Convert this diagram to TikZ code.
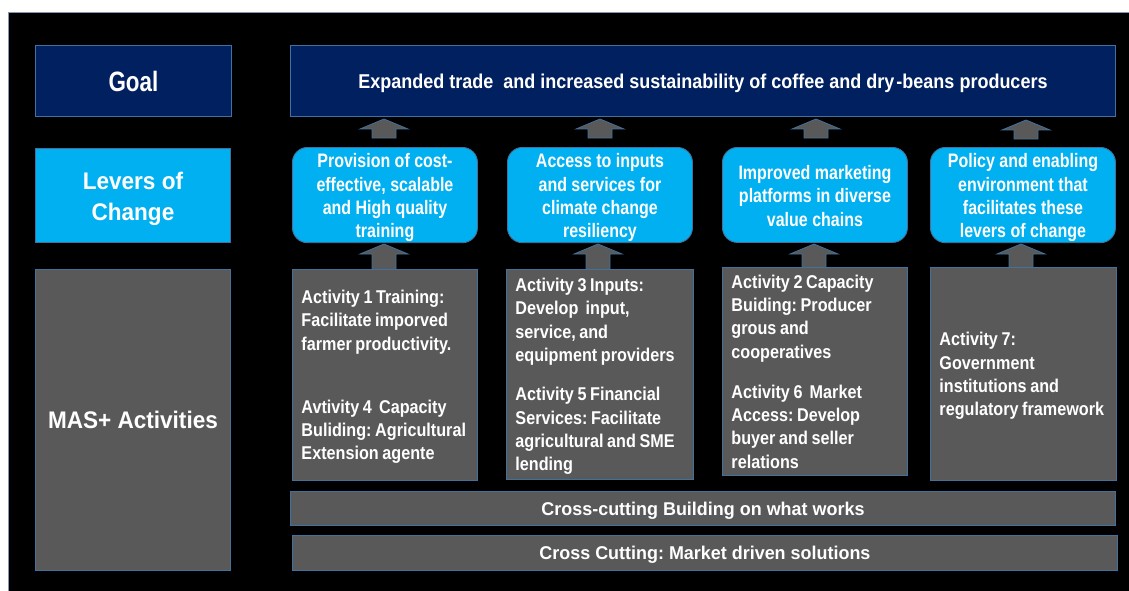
\documentclass[tikz,border=0pt]{standalone}
\usepackage{fontspec}
\setmainfont{Liberation Sans}
\newfontfamily\fgoal{Liberation Sans}[FakeStretch=0.80]
\newfontfamily\fgoaltext{Liberation Sans}[FakeStretch=0.90]
\newfontfamily\flev{Liberation Sans}[FakeStretch=0.82]
\newfontfamily\fact{Liberation Sans}[FakeStretch=0.875]
\newfontfamily\fside{Liberation Sans}[FakeStretch=0.94]
\newfontfamily\fcross{Liberation Sans}[FakeStretch=0.97]
\hyphenpenalty=10000
\exhyphenpenalty=10000
\frenchspacing
\newcommand\tightspaces{\spaceskip=3.6pt plus 1pt minus 0.5pt\relax}

\definecolor{navy}{HTML}{002060}
\definecolor{sky}{HTML}{00B0F0}
\definecolor{slate}{HTML}{595959}
\definecolor{edge}{HTML}{41719C}
\definecolor{frameline}{HTML}{8497B0}

% up-pointing block arrow: x centre, tip y, bottom y
\newcommand\blockup[3]{%
  \filldraw[fill=slate, draw=edge, line width=0.8pt]
    (#1-12,#3) -- (#1-12,#2+10) -- (#1-24,#2+10) -- (#1,#2)
    -- (#1+24,#2+10) -- (#1+12,#2+10) -- (#1+12,#3) -- cycle;}

\begin{document}
\begin{tikzpicture}[x=1pt, y=-1pt,
  box/.style={draw=edge, line width=0.9pt, inner sep=0pt, text=white,
    anchor=north west, align=center,
    % even line boxes top and bottom so text centres like a slide text frame
    execute at begin node={\rule{0pt}{0.98em}},
    execute at end node={\rule[-0.25em]{0pt}{0pt}}},
  lowertext/.style={execute at begin node={\rule{0pt}{1.05em}}},
  goalbox/.style={box, fill=navy},
  leverbox/.style={box, fill=sky, rounded corners=15pt, lowertext,
    text width=185pt, align=flush center,
    font=\flev\bfseries\fontsize{19.5}{23.3}\selectfont},
  sidelabel/.style={font=\fside\bfseries\fontsize{24}{32}\selectfont},
  actbox/.style={box, fill=slate, align=flush left, inner xsep=9pt,
    font=\fact\bfseries\fontsize{18.5}{23.3}\selectfont\tightspaces},
  crossbox/.style={box, fill=slate,
    font=\fcross\bfseries\fontsize{18.5}{22}\selectfont}]

\useasboundingbox (0,0) rectangle (1129,591);
\fill[white] (0,0) rectangle (1129,591);
\filldraw[fill=black, draw=frameline, line width=0.8pt] (8,12) rectangle (1140,600);

% arrows between the rows (drawn first so the boxes sit over their tails)
\blockup{384}{119}{138}
\blockup{600}{119}{138}
\blockup{816}{119}{138}
\blockup{1026}{120}{139}
\blockup{384}{244}{275}
\blockup{598}{244}{275}
\blockup{814}{244}{275}
\blockup{1021}{244}{275}

% row labels
\node[goalbox, minimum width=196pt, minimum height=71pt,
      font=\fgoal\bfseries\fontsize{28}{32}\selectfont] (goal) at (35,45) {Goal};
\node[box, fill=sky, minimum width=195pt, minimum height=94pt, sidelabel,
      text width=195pt, align=flush center, lowertext]
      (levers) at (35,148) {Levers of\\[-0.5pt]Change};
\node[box, fill=slate, minimum width=195pt, minimum height=301pt, sidelabel]
      (mas) at (35,269) {MAS+ Activities};

% goal statement
\node[goalbox, minimum width=825pt, minimum height=71pt,
      font=\fgoaltext\bfseries\fontsize{20}{24}\selectfont] (goaltext) at (290,45)
      {Expanded trade\ \ and increased sustainability of coffee and dry\kern2pt-beans producers};

% levers of change
\node[leverbox, minimum width=185pt, minimum height=95pt] (lev1) at (292,147)
      {Provision of cost-\\effective, scalable\\and High quality\\training};
\node[leverbox, minimum width=185pt, minimum height=95pt] (lev2) at (507,147)
      {Access to inputs\\and services for\\climate change\\resiliency};
\node[leverbox, minimum width=185pt, minimum height=95pt] (lev3) at (722,147)
      {Improved marketing\\platforms in diverse\\value chains};
\node[leverbox, minimum width=185pt, minimum height=95pt] (lev4) at (930,147)
      {Policy and enabling\\environment that\\facilitates these\\levers of change};

% activities
\node[actbox, text width=167pt, minimum height=211pt] (act1) at (292,269)
      {Activity 1 Training:\\Facilitate imporved\\farmer productivity.\\[40pt]
       Avtivity 4\ \ Capacity\\Buliding: Agricultural\\Extension agente};
\node[actbox, text width=169pt, minimum height=210pt] (act2) at (506,269)
      {Activity 3 Inputs:\\Develop\ \ input,\\service, and\\equipment providers\\[16pt]
       Activity 5 Financial\\Services: Facilitate\\agricultural and SME\\lending};
\node[actbox, text width=167pt, minimum height=208pt] (act3) at (722,267)
      {Activity 2 Capacity\\Buiding: Producer\\grous and\\cooperatives\\[17pt]
       Activity 6\ \ Market\\Access: Develop\\buyer and seller\\relations};
\node[actbox, text width=168pt, minimum height=213pt] (act4) at (930,267)
      {Activity 7:\\Government\\institutions and\\regulatory framework};

% cross-cutting bands
\node[crossbox, minimum width=825pt, minimum height=34pt] (cross1) at (290,491)
      {Cross-cutting Building on what works};
\node[crossbox, minimum width=825pt, minimum height=35pt] (cross2) at (292,535)
      {Cross Cutting: Market driven solutions};
\end{tikzpicture}
\end{document}
